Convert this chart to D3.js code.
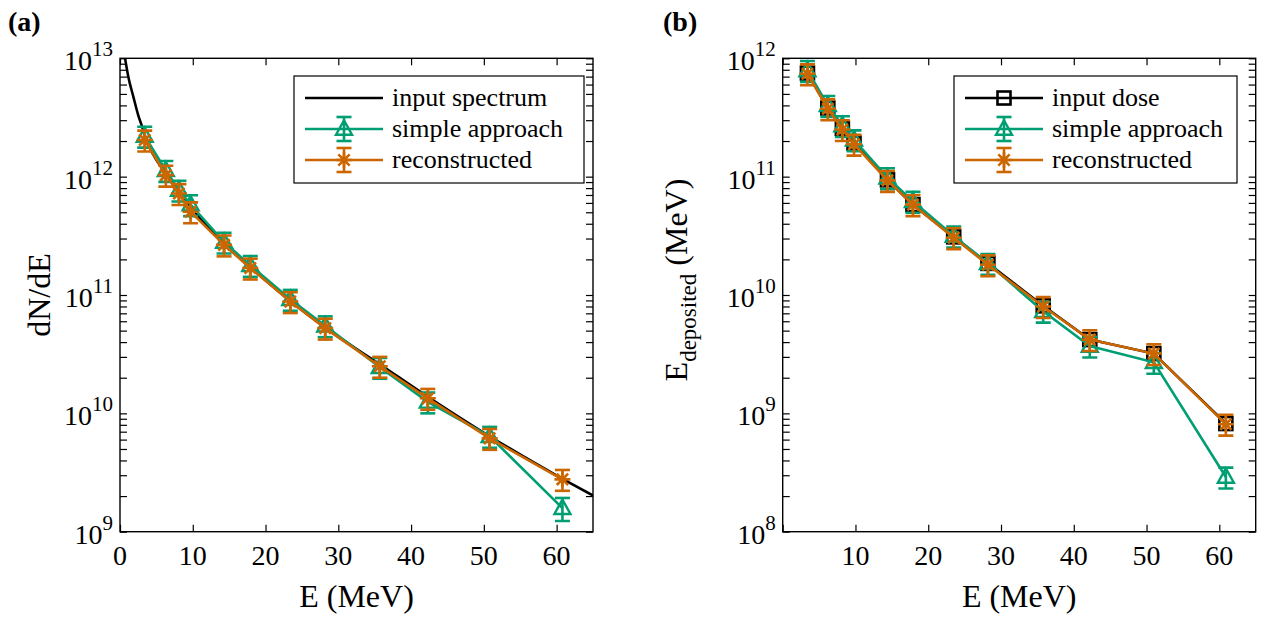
<!DOCTYPE html>
<html><head><meta charset="utf-8">
<script src="https://cdn.jsdelivr.net/npm/d3@7"></script>
<style>body{margin:0;background:#fff}</style>
</head><body>
<svg id="c" width="1267" height="619"></svg>
<script>
// ---- data (a) ----
const spectrumE = [0.69,1.14,1.83,2.51,2.97,3.5,6.3,8.2,10,14.3,18,23.4,28.2,35.7,42.3,50.8,60.8,65];
const spectrumN = [1.0e13,7.0e12,4.75e12,3.3e12,2.72e12,2.15e12,1.06e12,7.45e11,5.3e11,2.72e11,1.7e11,8.9e10,5.3e10,2.6e10,1.38e10,6.4e9,2.8e9,2.02e9];
const energyA = [3.4,6.3,8.1,9.7,14.3,17.9,23.4,28.2,35.7,42.3,50.8,60.8];
const simpleA = [2.2e12,1.13e12,7.7e11,5.8e11,2.8e11,1.78e11,9.2e10,5.5e10,2.45e10,1.25e10,6.4e9,1.58e9];
const reconA  = [2.04e12,1.03e12,7.2e11,5.05e11,2.65e11,1.69e11,8.8e10,5.25e10,2.5e10,1.34e10,6.15e9,2.77e9];
const errSimpleA = [0.2,0.2,0.2,0.2,0.2,0.2,0.2,0.2,0.2,0.2,0.2,0.22];
const errReconA  = [0.2,0.2,0.2,0.2,0.2,0.2,0.2,0.2,0.2,0.2,0.2,0.2];
// ---- data (b) ----
const energyB = [3.4,6.2,8.2,9.8,14.4,17.9,23.5,28.2,35.8,42.2,51.0,60.9];
const doseB   = [7.5e11,3.8e11,2.56e11,1.92e11,9.4e10,5.8e10,3.1e10,1.85e10,8.1e9,4.2e9,3.2e9,8.2e8];
const simpleB = [7.9e11,4.0e11,2.7e11,2.05e11,9.8e10,6.2e10,3.15e10,1.85e10,7.3e9,3.7e9,2.7e9,2.9e8];
const reconB  = [7.4e11,3.75e11,2.5e11,1.88e11,9.3e10,5.8e10,3.05e10,1.8e10,8.0e9,4.2e9,3.2e9,8.1e8];
const errSimpleB = [0.2,0.2,0.2,0.2,0.2,0.2,0.2,0.2,0.2,0.2,0.2,0.2];
const errReconB  = [0.2,0.2,0.2,0.2,0.2,0.2,0.2,0.2,0.2,0.2,0.2,0.2];
// ---- ticks / labels ----
const xTicksA = [0,10,20,30,40,50,60];
const xTicksB = [10,20,30,40,50,60];
const yExpA = [9,10,11,12,13];
const yExpB = [8,9,10,11,12];
const legendA = ["input spectrum","simple approach","reconstructed"];
const legendB = ["input dose","simple approach","reconstructed"];

const GREEN = "#009E73", ORANGE = "#CC6600", BLACK = "#000";
const LW = 2.6;
const svg = d3.select("#c");

function asteriskPath(r){
  const d = r*0.7071;
  return `M0,${-r}L0,${r}M${-r},0L${r},0M${-d},${-d}L${d},${d}M${-d},${d}L${d},${-d}`;
}
function trianglePath(s){
  const h = s*0.9;
  return `M0,${-h*0.6}L${s/2},${h*0.4}L${-s/2},${h*0.4}Z`;
}
function drawMarker(g, type, color){
  if(type==="tri") g.append("path").attr("d",trianglePath(16)).attr("fill","none").attr("stroke",color).attr("stroke-width",2.4);
  else if(type==="star") g.append("path").attr("d",asteriskPath(8)).attr("fill","none").attr("stroke",color).attr("stroke-width",2.6);
  else if(type==="sq") g.append("rect").attr("x",-6.5).attr("y",-6.5).attr("width",13).attr("height",13).attr("fill","none").attr("stroke",color).attr("stroke-width",2.6);
}

function panel(opt){
  const {left,right,top,bottom,yDomain,xTicks,yExp} = opt;
  const x = d3.scaleLinear().domain([0,65]).range([left,right]);
  const y = d3.scaleLog().domain(yDomain).range([bottom,top]);
  const g = svg.append("g");
  const clipId = "clip"+opt.id;
  svg.append("clipPath").attr("id",clipId).append("rect").attr("x",left).attr("y",top).attr("width",right-left).attr("height",bottom-top);

  const tl = 7;
  const minor = [];
  for(let e=yExp[0]; e<yExp[yExp.length-1]; e++) for(let k=2;k<=9;k++) minor.push(k*Math.pow(10,e));
  const majors = yExp.map(e=>Math.pow(10,e));
  const allY = majors.concat(minor);
  const xAll = [0,10,20,30,40,50,60];
  const axB = g.append("g").attr("transform",`translate(0,${bottom})`).call(d3.axisBottom(x).tickValues(xAll).tickSize(-tl).tickFormat(""));
  const axT = g.append("g").attr("transform",`translate(0,${top})`).call(d3.axisTop(x).tickValues(xAll).tickSize(-tl).tickFormat(""));
  const axL = g.append("g").attr("transform",`translate(${left},0)`).call(d3.axisLeft(y).tickValues(allY).tickSize(-tl).tickFormat(""));
  const axR = g.append("g").attr("transform",`translate(${right},0)`).call(d3.axisRight(y).tickValues(allY).tickSize(-tl).tickFormat(""));
  [axB,axT,axL,axR].forEach(a=>{a.selectAll(".tick line").attr("stroke","#000").attr("stroke-width",1.2);a.selectAll(".tick text").remove();});
  g.selectAll(".domain").remove();
  g.append("rect").attr("x",left).attr("y",top).attr("width",right-left).attr("height",bottom-top).attr("fill","none").attr("stroke","#000").attr("stroke-width",1.4);

  g.selectAll(".xl").data(xTicks).join("text").attr("x",d=>x(d)).attr("y",bottom+33)
    .attr("text-anchor","middle").attr("font-size",28).text(d=>d);
  yExp.forEach(e=>{
    const t = g.append("text").attr("x",left-7).attr("y",y(Math.pow(10,e))+12).attr("text-anchor","end").attr("font-size",28);
    t.append("tspan").text("10");
    t.append("tspan").attr("dy",-14).attr("font-size",21).text(e);
  });
  g.append("text").attr("x",(left+right)/2).attr("y",bottom+75).attr("text-anchor","middle").attr("font-size",32).text("E (MeV)");

  return {x,y,g,clipId};
}

function series(p, E, V, err, color, marker){
  const {x,y,g,clipId} = p;
  const sg = g.append("g").attr("clip-path",`url(#${clipId})`);
  const line = d3.line().x((d,i)=>x(E[i])).y(d=>y(d));
  sg.append("path").attr("d",line(V)).attr("fill","none").attr("stroke",color).attr("stroke-width",LW);
  V.forEach((v,i)=>{
    const cx = x(E[i]);
    if(err){
      const y1 = y(v*(1+err[i])), y2 = y(v*(1-err[i]));
      sg.append("line").attr("x1",cx).attr("x2",cx).attr("y1",y1).attr("y2",y2).attr("stroke",color).attr("stroke-width",LW);
      [y1,y2].forEach(yy=>sg.append("line").attr("x1",cx-7.5).attr("x2",cx+7.5).attr("y1",yy).attr("y2",yy).attr("stroke",color).attr("stroke-width",LW));
    }
    const mg = sg.append("g").attr("transform",`translate(${cx},${y(v)})`);
    drawMarker(mg, marker, color);
  });
}

function legend(bx,by,bw,bh,labels,types){
  const g = svg.append("g");
  g.append("rect").attr("x",bx).attr("y",by).attr("width",bw).attr("height",bh).attr("fill","#fff").attr("stroke","#000").attr("stroke-width",1.2);
  labels.forEach((lab,i)=>{
    const ry = by+22+i*31;
    const t = types[i];
    g.append("line").attr("x1",bx+11).attr("x2",bx+89).attr("y1",ry).attr("y2",ry).attr("stroke",t.color).attr("stroke-width",LW);
    const cx = bx+50;
    if(t.err){
      g.append("line").attr("x1",cx).attr("x2",cx).attr("y1",ry-12).attr("y2",ry+12).attr("stroke",t.color).attr("stroke-width",LW);
      [ry-12,ry+12].forEach(yy=>g.append("line").attr("x1",cx-7.5).attr("x2",cx+7.5).attr("y1",yy).attr("y2",yy).attr("stroke",t.color).attr("stroke-width",LW));
    }
    if(t.marker){ const mg=g.append("g").attr("transform",`translate(${cx},${ry})`); drawMarker(mg,t.marker,t.color); }
    g.append("text").attr("x",bx+98).attr("y",ry+8).attr("font-size",26).text(lab);
  });
}

// ---------- Panel (a) ----------
const pa = panel({id:"a",left:120,right:593,top:58.3,bottom:531.7,yDomain:[1e9,1e13],xTicks:xTicksA,yExp:yExpA});
{
  const sg = pa.g.append("g").attr("clip-path",`url(#${pa.clipId})`);
  const line = d3.line().x((d,i)=>pa.x(spectrumE[i])).y(d=>pa.y(d)).curve(d3.curveMonotoneX);
  sg.append("path").attr("d",line(spectrumN)).attr("fill","none").attr("stroke",BLACK).attr("stroke-width",LW);
}
series(pa, energyA, simpleA, errSimpleA, GREEN, "tri");
series(pa, energyA, reconA, errReconA, ORANGE, "star");
legend(294,76,290,107,legendA,[{color:BLACK},{color:GREEN,marker:"tri",err:true},{color:ORANGE,marker:"star",err:true}]);
svg.append("text").attr("transform","translate(50,295) rotate(-90)").attr("text-anchor","middle").attr("font-size",32).text("dN/dE");
svg.append("text").attr("x",8).attr("y",31).attr("font-size",28).attr("font-weight","bold").text("(a)");

// ---------- Panel (b) ----------
const pb = panel({id:"b",left:782.7,right:1255.7,top:58.3,bottom:531.7,yDomain:[1e8,1e12],xTicks:xTicksB,yExp:yExpB});
series(pb, energyB, doseB, null, BLACK, "sq");
series(pb, energyB, simpleB, errSimpleB, GREEN, "tri");
series(pb, energyB, reconB, errReconB, ORANGE, "star");
legend(954,76,283,107,legendB,[{color:BLACK,marker:"sq"},{color:GREEN,marker:"tri",err:true},{color:ORANGE,marker:"star",err:true}]);
{
  const t = svg.append("text").attr("transform","translate(687,280) rotate(-90)").attr("text-anchor","middle").attr("font-size",32);
  t.append("tspan").text("E");
  t.append("tspan").attr("dy",9).attr("font-size",23).text("deposited");
  t.append("tspan").attr("dy",-9).text(" (MeV)");
}
svg.append("text").attr("x",663).attr("y",31).attr("font-size",28).attr("font-weight","bold").text("(b)");

// force the serif face on every text node
svg.selectAll("text, tspan").style("font-family", '"Liberation Serif"').style("fill","#000");
</script>
</body></html>
